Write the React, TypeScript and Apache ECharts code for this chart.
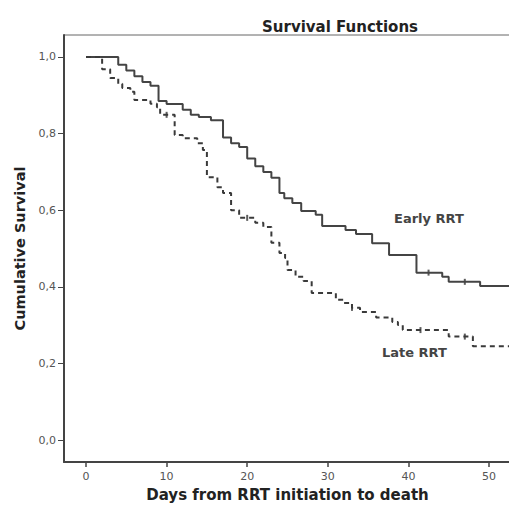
import React, { useEffect, useRef } from "react";
import * as echarts from "echarts";

const xTicks = [0, 10, 20, 30, 40, 50];
const yTicks = [0, 0.2, 0.4, 0.6, 0.8, 1.0];

const earlyDays = [0, 4, 5, 6, 7, 8, 9, 10, 12, 13, 14, 15.5, 17, 18, 19, 20, 21, 22, 23, 24, 24.6, 25.6, 26.7, 28.5, 29.3, 32.2, 33.5, 35.5, 37.6, 41, 44.2, 45, 48.9, 52.7];
const earlySurv = [1.0, 0.98, 0.965, 0.95, 0.935, 0.925, 0.885, 0.877, 0.862, 0.849, 0.843, 0.835, 0.79, 0.775, 0.765, 0.735, 0.715, 0.7, 0.685, 0.645, 0.631, 0.619, 0.598, 0.588, 0.559, 0.548, 0.538, 0.514, 0.483, 0.437, 0.426, 0.413, 0.402, 0.402];

const lateDays = [0, 2, 3, 4, 4.5, 5.5, 6, 8, 8.8, 9.2, 11, 12, 13.8, 14.5, 15, 16.3, 17, 18, 19, 21, 22, 23, 24, 24.7, 25, 26, 27, 28, 31, 32, 33, 34, 36, 38, 38.7, 39.3, 45, 48, 52.7];
const lateSurv = [1.0, 0.968, 0.945, 0.93, 0.919, 0.909, 0.888, 0.878, 0.869, 0.849, 0.796, 0.788, 0.775, 0.757, 0.686, 0.66, 0.645, 0.6, 0.58, 0.567, 0.556, 0.515, 0.488, 0.475, 0.444, 0.426, 0.415, 0.384, 0.366, 0.358, 0.345, 0.334, 0.32, 0.308, 0.3, 0.287, 0.27, 0.245, 0.245];

const earlyCensorDays = [42.5, 47];
const earlyCensorSurv = [0.437, 0.413];
const lateCensorDays = [10, 20, 33, 41.5, 47];
const lateCensorSurv = [0.849, 0.58, 0.345, 0.287, 0.27];

const seriesNames = ["Early RRT", "Late RRT"];

const fmt = (v: number) => v.toFixed(1).replace(".", ",");

export default function App() {
  const ref = useRef<HTMLDivElement>(null);
  useEffect(() => {
    if (!ref.current) return;
    const chart = echarts.init(ref.current, null, { renderer: "svg" });
    const pair = (xs: number[], ys: number[]) => xs.map((x, i) => [x, ys[i]]);
    const font = "DejaVu Sans";
    chart.setOption({
      animation: false,
      backgroundColor: "#fff",
      textStyle: { fontFamily: font },
      title: {
        text: "Survival Functions",
        left: 257,
        top: 14,
        textStyle: { fontFamily: font, fontSize: 15, fontWeight: "bold", color: "#222" },
      },
      grid: {
        left: 64,
        top: 35,
        right: -2,
        bottom: 44,
        show: true,
        borderColor: "#666",
        borderWidth: 1,
        backgroundColor: "#fff",
        containLabel: false,
        outerBoundsMode: "none",
      },
      xAxis: {
        type: "value",
        min: -2.73,
        max: 52.73,
        name: "Days from RRT initiation to death",
        nameLocation: "middle",
        nameGap: 25,
        nameTextStyle: { fontFamily: font, fontSize: 15, fontWeight: "bold", color: "#222" },
        axisLine: { show: true, onZero: false, lineStyle: { color: "#444", width: 2 } },
        axisTick: { show: true, length: 5, customValues: xTicks, lineStyle: { color: "#444", width: 1.5 } },
        axisLabel: { customValues: xTicks, margin: 9, fontSize: 11, color: "#555", fontFamily: font },
        splitLine: { show: false },
      },
      yAxis: {
        type: "value",
        min: -0.0574,
        max: 1.0574,
        name: "Cumulative Survival",
        nameLocation: "middle",
        nameGap: 37,
        nameTextStyle: { fontFamily: font, fontSize: 14.5, fontWeight: "bold", color: "#222" },
        axisLine: { show: true, onZero: false, lineStyle: { color: "#444", width: 2 } },
        axisTick: { show: true, length: 6, customValues: yTicks, lineStyle: { color: "#444", width: 1 } },
        axisLabel: { customValues: yTicks, margin: 8, fontSize: 11, color: "#555", fontFamily: font, formatter: (v: number) => fmt(v) },
        splitLine: { show: false },
      },
      series: [
        {
          name: seriesNames[0],
          type: "line",
          step: "end",
          data: pair(earlyDays, earlySurv),
          showSymbol: false,
          lineStyle: { color: "#444", width: 2 },
        },
        {
          name: seriesNames[1],
          type: "line",
          step: "end",
          data: pair(lateDays, lateSurv),
          showSymbol: false,
          lineStyle: { color: "#3a3a3a", width: 2, type: [5, 4] },
        },
        {
          type: "scatter",
          data: pair(earlyCensorDays, earlyCensorSurv),
          symbol: "rect",
          symbolSize: [2, 6],
          itemStyle: { color: "#333" },
        },
        {
          type: "scatter",
          data: pair(lateCensorDays, lateCensorSurv),
          symbol: "rect",
          symbolSize: [2, 6],
          itemStyle: { color: "#333" },
        },
      ],
      graphic: [
        {
          type: "text",
          left: 394,
          top: 212,
          style: { text: seriesNames[0], fontFamily: font, fontSize: 13, fontWeight: "bold", fill: "#444" },
        },
        {
          type: "text",
          left: 382,
          top: 346,
          style: { text: seriesNames[1], fontFamily: font, fontSize: 13, fontWeight: "bold", fill: "#444" },
        },
      ],
    });
    return () => chart.dispose();
  }, []);
  return (
    <div
      ref={ref}
      style={{ position: "fixed", left: 0, top: 0, width: 509, height: 506, overflow: "hidden" }}
    />
  );
}
